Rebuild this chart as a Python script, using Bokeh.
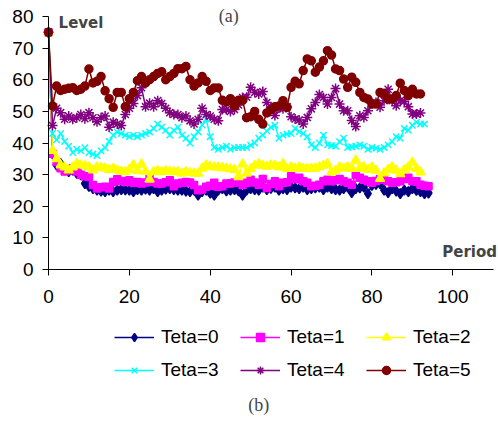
from bokeh.plotting import figure
from bokeh.models import Range1d, Label, Legend, LegendItem, FixedTicker
from bokeh.embed import file_html
from bokeh.resources import INLINE

teta0 = [75, 36.6, 33, 33.5, 31.5, 31, 31.4, 30.4, 29.9, 27.2, 26.3, 25.6, 25.1, 24.8, 24.6, 25.1, 24.6, 25.1, 25.3, 25.2,
         25.1, 24.6, 25.3, 25.1, 25.4, 25.1, 25.6, 24.6, 25.1, 25.4, 25.6, 25.3, 25.1, 25.1, 24.8, 24.6, 25.1, 23.5, 24.6, 25.1,
         24.2, 23.5, 25.1, 25.6, 24.9, 25.1, 25.3, 24.9, 23.5, 25.1, 25.6, 25.3, 25.1, 26.1, 25.3, 25.7, 26.1, 25.1, 25.6, 25.3,
         26.1, 25.8, 25.6, 26.1, 25.3, 25.6, 25.8, 26.1, 25.3, 26.1, 25.6, 25.3, 25.1, 25.6, 26.1, 24.3, 25.6, 25.8, 26.1, 24,
         26.6, 26.9, 27.2, 25.1, 24.3, 25.6, 24.8, 24, 25.1, 24.6, 25.6, 25, 24.6, 24, 24.2]
teta1 = [75, 36.6, 34, 32, 31, 31.4, 32, 31, 30, 29.5, 29.3, 26.7, 25.6, 26, 26.2, 25.6, 27.7, 28.5, 28, 27.7,
         28.2, 27.4, 27.7, 27.2, 27.5, 28.7, 27.7, 27.2, 27.2, 27.6, 28.2, 26.3, 27.2, 27.4, 27.7, 27.5, 26.7, 25.1, 25.3, 26.2,
         26.5, 27.4, 26.2, 26.3, 27.2, 27.2, 27.5, 27.7, 26.7, 27.4, 28.4, 27.5, 26.8, 28.6, 25.8, 27, 27.9, 26.3, 27.4, 27.6,
         29.5, 28.5, 29, 27.9, 27.4, 26.3, 26.5, 26.8, 27.9, 28.4, 27.9, 28.2, 28.6, 27.9, 27.4, 26.8, 30, 29, 28.4, 27.9,
         27.4, 28, 28.6, 28.4, 27.9, 27.4, 27.6, 27.9, 28.6, 29, 27.9, 27.9, 26.8, 26.5, 26.3]
teta2 = [75, 37.6, 35, 33, 32.4, 31.4, 32.4, 33.5, 33, 32.8, 32.4, 31.4, 32.4, 32.2, 32, 31.6, 32, 31.4, 31, 30.9,
         31.6, 33, 31.2, 33.3, 31, 28.5, 30.9, 31.2, 30.9, 31.2, 31, 30.9, 30.9, 30.4, 30.9, 30.6, 30.4, 30.4, 32, 33,
         32.6, 32.4, 32.4, 32.2, 32, 31.8, 31.6, 29.3, 33.3, 30.4, 31.8, 32.9, 33.4, 32.9, 32.6, 33, 32.9, 32.4, 33.4, 31.9,
         32.4, 32, 32.4, 31.9, 31.9, 31.9, 32, 32.4, 32.9, 33.4, 30.8, 31.3, 32.4, 32, 32.4, 31.9, 34.5, 31.9, 32.5, 31.6,
         32.4, 31.3, 28.7, 30.5, 31.6, 32.4, 31.3, 30.2, 31.5, 32.4, 33.9, 31.9, 30.8]
teta3 = [75, 43, 41, 43, 40.5, 39, 37, 38, 37.5, 38.5, 37, 36.5, 36, 37.5, 38.5, 40.5, 42.5, 43.5, 43, 42.5,
         42, 42.5, 42, 42.5, 43, 43.5, 44.6, 46, 45, 44, 42.5, 44, 45, 42.5, 41.5, 40, 42, 43.5, 45.7, 47.6,
         42, 38.6, 38, 38.6, 39, 38, 38.5, 38.6, 38.6, 38.6, 39.3, 40, 41.5, 42.5, 43.8, 45, 45.6, 41.5, 42.5, 42.8,
         43, 44.6, 43.6, 43, 42, 39.4, 38.6, 40, 42.5, 39.4, 39.2, 39, 40.4, 41.5, 38.6, 38.8, 39, 39.4, 39, 38,
         38.6, 38.3, 38, 38.6, 39.4, 40.4, 42, 41.5, 44.6, 44, 45.6, 46.6, 46, 46]
teta4 = [75, 45.5, 51, 49.6, 47.5, 48.5, 47.5, 48, 49, 47.7, 49.6, 48, 46.7, 48, 48.5, 45, 46.6, 46, 45.5, 49,
         51, 52.5, 55, 57.5, 51.5, 52.6, 51.5, 53.4, 52.5, 51, 49.6, 49, 49, 48, 48.5, 47, 46, 47.5, 51, 49,
         48.5, 47.5, 47, 50.6, 50.6, 50, 50.6, 52, 54.4, 54.5, 57.6, 56, 55.5, 56.3, 52.8, 51.3, 48.7, 51.1, 50.8, 51.5,
         48.3, 47.6, 47.3, 46, 48.1, 50.8, 52.8, 55.3, 54.4, 52.3, 54.4, 57.2, 52.3, 50.2, 50.2, 47.1, 45.2, 48.6, 48.1, 50.2,
         52.5, 52.8, 51.3, 53.4, 57, 53.4, 51.8, 53.4, 53.2, 51.5, 49.2, 49.2, 49.5]
teta5 = [75, 51.7, 58, 56.6, 57, 57.3, 57.5, 56.6, 57, 58, 63.4, 59, 59.5, 61, 56.5, 54, 51.3, 56, 56, 51.5,
         54, 56, 59.7, 61, 59, 60, 61, 62, 62.5, 60, 61, 62, 63.5, 63.5, 64.2, 60, 58, 59, 61, 59.5,
         56.6, 57.4, 57.4, 53.5, 53, 54, 51.7, 53.5, 53.5, 48, 48.3, 50, 47.5, 46, 49.5, 50.5, 51.5, 51.7, 53.4, 51.3,
         57.6, 59.5, 58.7, 62.9, 66.6, 66, 62.4, 64, 66, 69.2, 67.8, 63.4, 62.9, 60.2, 57.6, 60.8, 59.2, 56, 54.4, 53.9,
         52.3, 52.3, 56, 55.5, 53.9, 53.9, 55, 58.9, 56.6, 55, 57, 55.5, 55.5]

series = [teta0, teta1, teta2, teta3, teta4, teta5]
labels = ["Teta=0", "Teta=1", "Teta=2", "Teta=3", "Teta=4", "Teta=5"]
colors = ["#000080", "#FF00FF", "#FFFF00", "#00FFFF", "#800080", "#800000"]
markers = ["diamond", "square", "triangle", "x", "asterisk", "circle"]
sizes = [10, 7, 9, 9, 10, 8]
x_ticks = [0, 20, 40, 60, 80, 100]
y_ticks = [0, 10, 20, 30, 40, 50, 60, 70, 80]

p = figure(width=498, height=421, output_backend="svg", toolbar_location=None,
           x_range=Range1d(-11.87, 111.3), y_range=Range1d(-48.06, 85.06),
           min_border_left=0, min_border_top=0, min_border_right=0, min_border_bottom=0)
p.outline_line_color = None
p.grid.visible = False
p.background_fill_color = "white"
p.border_fill_color = "white"

p.xaxis.fixed_location = 0
p.yaxis.fixed_location = 0
p.xaxis.bounds = (0, 110.1)
p.yaxis.bounds = (0, 80)
for ax, ticks in ((p.xaxis[0], x_ticks), (p.yaxis[0], y_ticks)):
    ax.ticker = FixedTicker(ticks=ticks)
    ax.minor_tick_line_color = None
    ax.major_tick_in = 0
    ax.major_tick_out = 6
    ax.axis_line_color = "black"
    ax.major_tick_line_color = "black"
    ax.major_label_text_font = "Liberation Sans"
    ax.major_label_text_font_size = "19px"
    ax.major_label_text_color = "black"
p.xaxis.major_label_standoff = 14
p.yaxis.major_label_standoff = 9

items = []
for ys, lab, col, mk, sz in zip(series, labels, colors, markers, sizes):
    xs = list(range(len(ys)))
    r1 = p.line(xs, ys, line_color=col, line_width=1.5)
    r2 = p.scatter(xs, ys, marker=mk, size=sz, line_color=col, fill_color=col, line_width=1.5)
    items.append(LegendItem(label=lab, renderers=[r1, r2]))

legend = Legend(items=items, orientation="horizontal", ncols=3, location=(114, 40),
                label_text_font="Liberation Sans", label_text_font_size="19px", label_text_color="black",
                glyph_width=40, glyph_height=20, label_standoff=7, spacing=11, label_width=68,
                padding=4, margin=0, border_line_color=None, background_fill_alpha=0)
p.add_layout(legend, "center")

p.add_layout(Label(x=2.5, y=78, text="Level", text_align="left", text_baseline="middle",
                   text_font="DejaVu Sans", text_font_style="bold", text_font_size="15px"))
p.add_layout(Label(x=97.4, y=5.4, text="Period", text_align="left", text_baseline="middle",
                   text_font="DejaVu Sans", text_font_style="bold", text_font_size="15px"))
p.add_layout(Label(x=44.6, y=80.3, text="(a)", text_align="center", text_baseline="middle",
                   text_font="Liberation Serif", text_font_size="18px"))
p.add_layout(Label(x=52, y=-43, text="(b)", text_align="center", text_baseline="middle",
                   text_font="Liberation Serif", text_font_size="18px"))

open("out.html", "w").write(file_html(p, INLINE))
